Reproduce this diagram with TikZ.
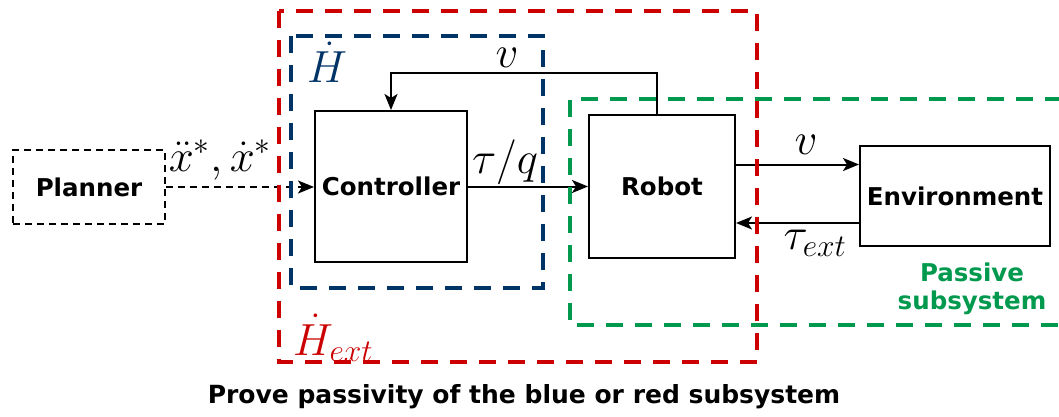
\RequirePackage{fix-cm}
\documentclass[tikz,border=0pt]{standalone}
\usepackage{fontspec}
\setmainfont{DejaVu Sans}
\usetikzlibrary{positioning}
\usetikzlibrary{arrows.meta}
\definecolor{hred}{RGB}{204,0,0}
\definecolor{hblue}{RGB}{0,51,102}
\definecolor{hgreen}{RGB}{0,153,77}

\begin{document}
\begin{tikzpicture}[x=1pt,y=-1pt,
	block/.style={draw, line width=2pt, font=\fontsize{24.5}{29}\selectfont\bfseries},
	sig/.style={line width=2pt, -{Stealth[length=16pt,width=13pt,inset=4pt]}},
	zone/.style={line width=3.5pt, dash pattern=on 17pt off 12pt},
	mlabel/.style={font=\fontsize{45}{50}\selectfont}]
	\useasboundingbox (0,0) rectangle (1059,417);
	% Blocks %
	\node [block, dashed, dash pattern=on 7pt off 5pt, minimum width=152pt, minimum height=74pt] (plan) at (89,187) {Planner};
	\node [block, minimum width=152pt, minimum height=151pt] (ctrl) at (391,186.5) {Controller};
	\node [block, minimum width=146pt, minimum height=143pt] (robot) at (662,186.5) {Robot};
	\node [block, minimum width=190pt, minimum height=100pt] (env) at (955,196) {Environment};
	% Signals %
	\draw [sig, dash pattern=on 7pt off 5pt] (plan.east) -- (plan.east -| ctrl.west);
	\draw [sig] (ctrl.east) -- (robot.west);
	\draw [sig] ([xshift=-5pt]robot.north) -- ++(0,-41) -| (ctrl.north);
	\draw [sig] ([yshift=22pt]robot.east) -- ([yshift=22pt]robot.east -| env.west);
	\draw [sig] ([yshift=-27pt]env.west) -- ([yshift=-27pt]env.west -| robot.east);
	% Subsystems %
	\draw [zone, hred] (279,11) rectangle (757,362);
	\draw [zone, hblue] (291,36) rectangle (543,288);
	\draw [zone, hgreen] (1062,99) -- (570,99) -- (570,325) -- (1062,325);
	% Labels %
	\node [mlabel] (xref) at (220,160) {$\ddot{x}^*,\dot{x}^*$};
	\node [mlabel] (tq) at (505,162) {$\tau/q$};
	\node [mlabel] (vback) at (507,58) {$v$};
	\node [mlabel] (vout) at (806,145) {$v$};
	\node [mlabel] (text) at (815,243) {$\tau_{ext}$};
	\node [mlabel, text=hblue] (hdot) at (327,62) {$\dot{H}$};
	\node [mlabel, text=hred] (hext) at (333,338) {$\dot{H}_{ext}$};
	\node [text=hgreen, align=center, font=\fontsize{24.5}{28}\selectfont\bfseries] (pass) at (972,289) {Passive\\subsystem};
	\node [font=\fontsize{25}{29}\selectfont\bfseries] (prove) at (524,397) {Prove passivity of the blue or red subsystem};
\end{tikzpicture}
\end{document}
